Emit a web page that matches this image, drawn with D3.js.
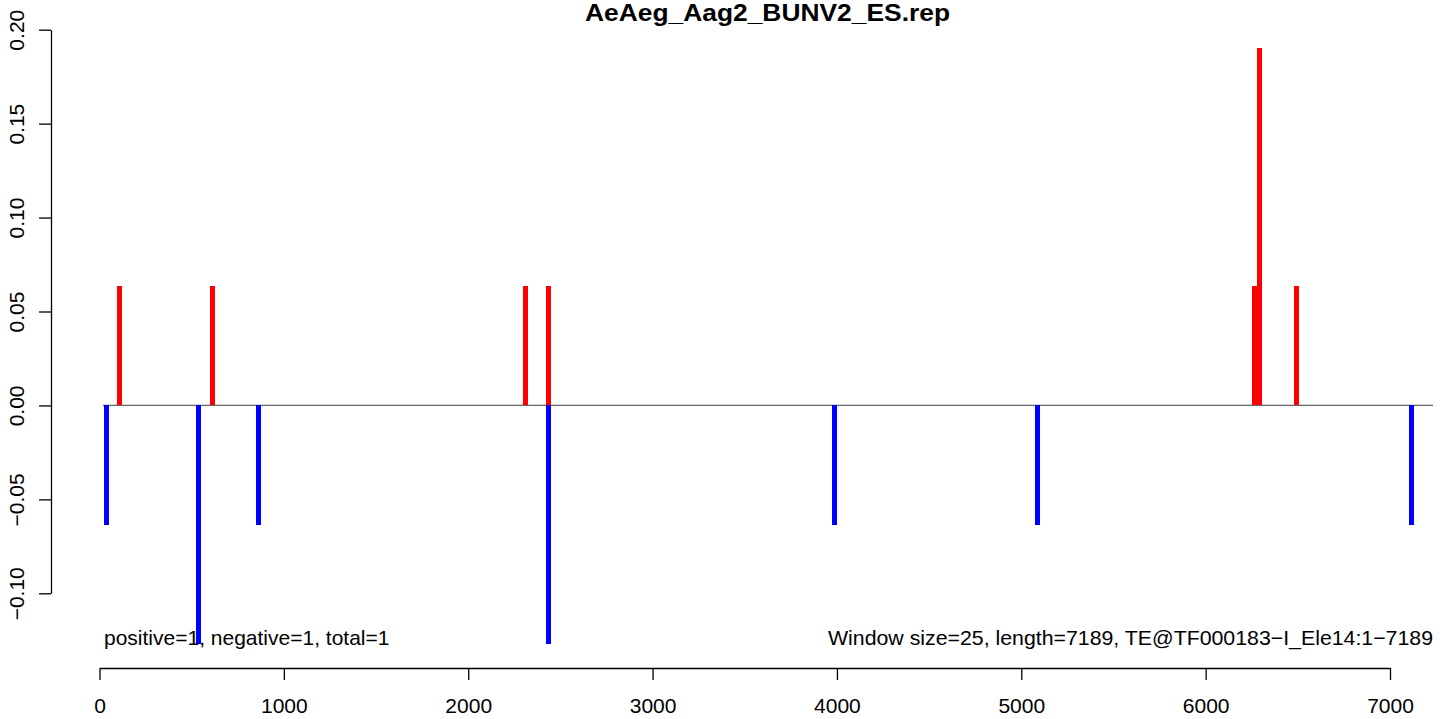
<!DOCTYPE html>
<html>
<head>
<meta charset="utf-8">
<script src="https://cdn.jsdelivr.net/npm/d3@7"></script>
<style>
  html, body { margin: 0; padding: 0; background: #fff; }
  svg { display: block; font-family: "Liberation Sans", Arial, Helvetica, sans-serif; }
</style>
</head>
<body>
<script>
// ---- data ----
const titleText = "AeAeg_Aag2_BUNV2_ES.rep";
const leftNote = "positive=1, negative=1, total=1";
const rightNote = "Window size=25, length=7189, TE@TF000183\u2212I_Ele14:1\u22127189";

const posX = [108, 613, 2311, 2436, 6265, 6292, 6493];
const posY = [0.0635, 0.0635, 0.0635, 0.0635, 0.0635, 0.1905, 0.0635];
const negX = [38, 537, 862, 2436, 3987, 5088, 7118];
const negY = [-0.0635, -0.127, -0.0635, -0.127, -0.0635, -0.0635, -0.0635];

const xTicks = [0, 1000, 2000, 3000, 4000, 5000, 6000, 7000];
const yTicks = [-0.10, -0.05, 0.00, 0.05, 0.10, 0.15, 0.20];

// ---- layout ----
const W = 1455, H = 719;
const plotLeft = 103, plotRight = 1433;
const xAxisY = 668, yAxisX = 51;
const fs = 21;

const svg = d3.select("body").append("svg").attr("width", W).attr("height", H);

const x = d3.scaleLinear().domain([0, 7000]).range([99.5, 1390]);
const y = d3.scaleLinear().domain([-0.10, 0.20]).range([593.3, 29.7]);

const barW = 5;

// zero line
svg.append("line")
  .attr("x1", plotLeft).attr("x2", plotRight)
  .attr("y1", y(0)).attr("y2", y(0))
  .attr("stroke", "#666").attr("stroke-width", 1.2);

// bars
const pos = posX.map((v, i) => ({x: v, y: posY[i]}));
const neg = negX.map((v, i) => ({x: v, y: negY[i]}));

svg.append("g").selectAll("rect").data(pos).join("rect")
  .attr("x", d => Math.round(x(d.x) - barW / 2))
  .attr("width", barW)
  .attr("y", d => y(d.y))
  .attr("height", d => y(0) - y(d.y))
  .attr("fill", "#ff0000")
  .attr("shape-rendering", "crispEdges");

svg.append("g").selectAll("rect").data(neg).join("rect")
  .attr("x", d => Math.round(x(d.x) - barW / 2))
  .attr("width", barW)
  .attr("y", y(0))
  .attr("height", d => y(d.y) - y(0))
  .attr("fill", "#0000ff")
  .attr("shape-rendering", "crispEdges");

// x axis
const gx = svg.append("g").attr("transform", `translate(0,${xAxisY})`)
  .call(d3.axisBottom(x).tickValues(xTicks).tickFormat(d3.format("d"))
    .tickSize(12).tickSizeOuter(0).tickPadding(18));
gx.select(".domain").attr("stroke", "#000").attr("stroke-width", 1.3);
gx.selectAll(".tick line").attr("stroke", "#000").attr("stroke-width", 1.3);
gx.selectAll(".tick text").attr("font-size", fs).attr("font-family", "Liberation Sans, Arial, sans-serif").attr("fill", "#000");

// y axis
const gy = svg.append("g").attr("transform", `translate(${yAxisX},0)`)
  .call(d3.axisLeft(y).tickValues(yTicks).tickFormat(d3.format(".2f"))
    .tickSize(12).tickSizeOuter(0));
gy.select(".domain").attr("stroke", "#000").attr("stroke-width", 1.3);
gy.selectAll(".tick line").attr("stroke", "#000").attr("stroke-width", 1.3);
gy.selectAll(".tick text")
  .attr("x", null).attr("dy", null).attr("y", null)
  .attr("transform", "translate(-27,0) rotate(-90)")
  .attr("text-anchor", "middle")
  .attr("font-size", fs).attr("font-family", "Liberation Sans, Arial, sans-serif").attr("fill", "#000");

// title
svg.append("text")
  .attr("x", 767.5).attr("y", 21)
  .attr("text-anchor", "middle")
  .attr("font-weight", "bold")
  .attr("font-size", 23)
  .attr("textLength", 365).attr("lengthAdjust", "spacingAndGlyphs")
  .text(titleText);

// notes
svg.append("text")
  .attr("x", plotLeft + 1).attr("y", 645)
  .attr("font-size", fs)
  .text(leftNote);

svg.append("text")
  .attr("x", plotRight).attr("y", 645)
  .attr("text-anchor", "end")
  .attr("font-size", fs)
  .attr("textLength", 605).attr("lengthAdjust", "spacingAndGlyphs")
  .text(rightNote);
</script>
</body>
</html>
